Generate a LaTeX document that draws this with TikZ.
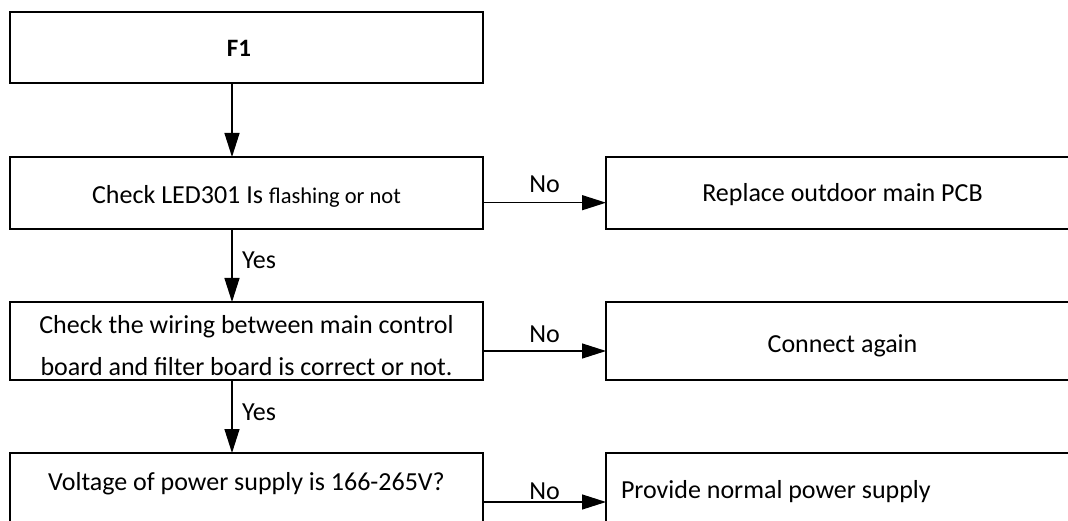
\documentclass[tikz,border=0pt]{standalone}
\usepackage{fontspec}
\setmainfont{Carlito}
\usetikzlibrary{arrows.meta}
\begin{document}
\begin{tikzpicture}[x=1pt,y=-1pt,
  box/.style={draw, line width=1.9pt, rectangle, minimum width=473pt, inner sep=0pt, outer sep=0pt},
  arr/.style={line width=1.3pt, -{Triangle[length=24pt,width=15pt]}},
  txt/.style={inner sep=0pt, outer sep=0pt, font=\fontsize{26}{30}\selectfont},
  lbl/.style={inner sep=0pt, outer sep=0pt, font=\fontsize{26}{30}\selectfont}
]
\fill[white] (0,0) rectangle (1068,521);
\clip (0,0) rectangle (1068,521);
% boxes
\node[box, minimum height=71pt] (f1) at (246.5,47.5) {};
\node[box, minimum height=72pt] (b2) at (246.5,193) {};
\node[box, minimum height=78pt] (b3) at (246.5,341) {};
\node[box, minimum height=78pt] (b4) at (246.5,492) {};
\node[box, minimum height=72pt] (r1) at (842.5,193) {};
\node[box, minimum height=78pt] (r2) at (842.5,341) {};
\node[box, minimum height=78pt] (r3) at (842.5,492) {};
% texts
\node[txt, anchor=base, font=\fontsize{25}{30}\selectfont\bfseries] (t1) at (239,57) {F1};
\node[txt, anchor=base] (t2) at (246.5,204) {Check LED301 Is {\fontsize{22.5}{26}\selectfont flashing or not}};
\node[txt, anchor=base] (t3a) at (246.5,333) {Check the wiring between main control};
\node[txt, anchor=base] (t3b) at (246.5,375) {board and filter board is correct or not.};
\node[txt, anchor=base] (t4) at (246.5,490) {Voltage of power supply is 166-265V?};
\node[txt, anchor=base] (tr1) at (842.5,202) {Replace outdoor main PCB};
\node[txt, anchor=base] (tr2) at (842.5,352) {Connect again};
\node[txt, anchor=base west] (tr3) at (621,498) {Provide normal power supply};
% vertical arrows
\draw[arr] ([xshift=222pt]f1.south west) -- ([xshift=222pt]b2.north west);
\draw[arr] ([xshift=222pt]b2.south west) -- node[lbl, pos=0.5, anchor=base west, xshift=10pt, yshift=-3pt] (y1) {Yes} ([xshift=222pt]b3.north west);
\draw[arr] ([xshift=222pt]b3.south west) -- node[lbl, pos=0.5, anchor=base west, xshift=10pt, yshift=-4pt] (y2) {Yes} ([xshift=222pt]b4.north west);
% horizontal arrows
\draw[arr] ([yshift=-45.7pt]b2.north east) -- node[lbl, pos=0.5, anchor=base, yshift=9.7pt] (n1) {No} ([yshift=-45.7pt]r1.north west);
\draw[arr] ([yshift=-49pt]b3.north east) -- node[lbl, pos=0.5, anchor=base, yshift=9pt] (n2) {No} ([yshift=-49pt]r2.north west);
\draw[arr] ([yshift=-49pt]b4.north east) -- node[lbl, pos=0.5, anchor=base, yshift=3pt] (n3) {No} ([yshift=-49pt]r3.north west);
\end{tikzpicture}
\end{document}
